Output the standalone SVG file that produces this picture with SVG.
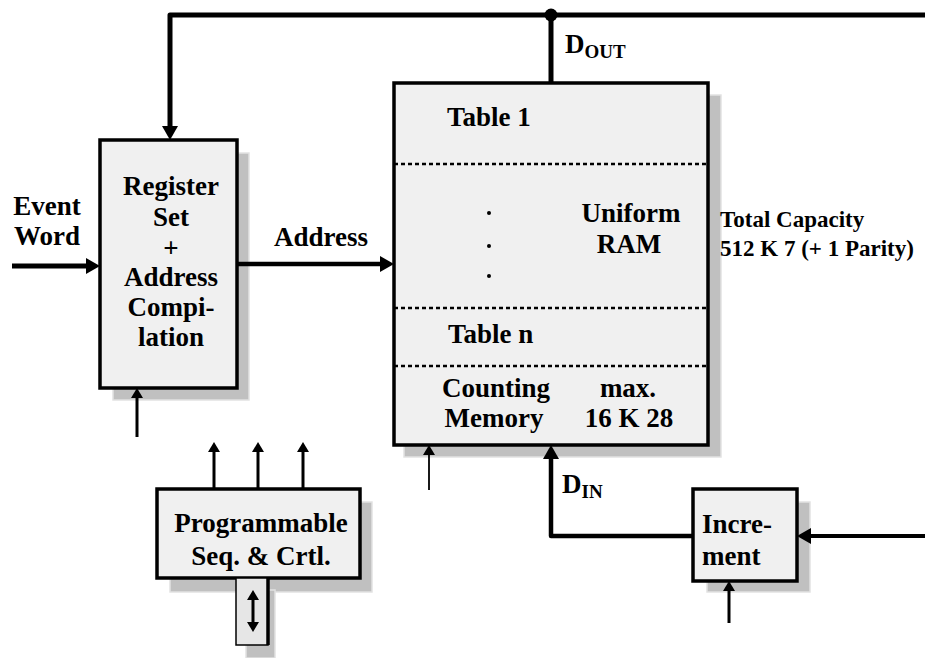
<svg xmlns="http://www.w3.org/2000/svg" width="925" height="658" viewBox="0 0 925 658">
<style>
text{font-family:"Liberation Serif","Times New Roman",serif;font-weight:bold;fill:#000}
.t{font-size:27px}
.s{font-size:23px}
.sub{font-size:19px}
.m{text-anchor:middle}
.box{fill:#f0f0f0;stroke:#000;stroke-width:3.5}
.shadow{fill:#c0c0c0;stroke:#e2e2e2;stroke-width:1.5}
.w{fill:none;stroke:#000;stroke-linejoin:round}
.div{stroke:#000;stroke-width:2.5;stroke-dasharray:4 3}
</style>
<defs>
<marker id="ab" markerUnits="userSpaceOnUse" markerWidth="14" markerHeight="16" refX="0" refY="8" orient="auto"><path d="M0,0 L14,8 L0,16 z" fill="#000"/></marker>
<marker id="as" markerUnits="userSpaceOnUse" markerWidth="10" markerHeight="12" refX="0" refY="6" orient="auto-start-reverse"><path d="M0,0 L10,6 L0,12 z" fill="#000"/></marker>
</defs>

<g id="register">
<rect class="shadow" x="113" y="153" width="136" height="247"/>
<rect class="box" x="100" y="140" width="137" height="248"/>
<text class="t m" x="171" y="195">Register</text>
<text class="t m" x="171" y="226">Set</text>
<text class="t m" x="171" y="257">+</text>
<text class="t m" x="171" y="286">Address</text>
<text class="t m" x="171" y="316">Compi-</text>
<text class="t m" x="171" y="346">lation</text>
</g>

<g id="ram">
<rect class="shadow" x="404" y="95" width="317" height="362"/>
<rect class="box" x="394" y="83" width="314" height="362"/>
<line class="div" x1="394" y1="164" x2="708" y2="164"/>
<line class="div" x1="394" y1="308" x2="708" y2="308"/>
<line class="div" x1="394" y1="366" x2="708" y2="366"/>
<text class="t" x="447" y="126">Table 1</text>
<circle cx="489" cy="213" r="2"/>
<circle cx="489" cy="246" r="2"/>
<circle cx="489" cy="276" r="2"/>
<text class="t m" x="631" y="222">Uniform</text>
<text class="t m" x="629" y="253">RAM</text>
<text class="t" x="448" y="343">Table n</text>
<text class="t m" x="496" y="397">Counting</text>
<text class="t m" x="494" y="427">Memory</text>
<text class="t m" x="628" y="397">max.</text>
<text class="t m" x="629" y="427">16 K 28</text>
</g>

<g id="capacity">
<text class="s" x="720" y="227">Total Capacity</text>
<text class="s" x="720" y="256">512 K 7 (+ 1 Parity)</text>
</g>

<g id="sequencer">
<rect class="shadow" x="170" y="502" width="202" height="90"/>
<rect class="box" x="157" y="489" width="203" height="89"/>
<text class="t m" x="261" y="532">Programmable</text>
<text class="t m" x="261" y="565">Seq. &amp; Crtl.</text>
</g>

<g id="io-port">
<rect class="shadow" x="246" y="590" width="29" height="68"/>
<rect x="236" y="578" width="32" height="67" fill="#e6e6e6" stroke="#000" stroke-width="1.5"/>
<line x1="268" y1="578" x2="268" y2="645" stroke="#000" stroke-width="3.5"/>
</g>

<g id="increment">
<rect class="shadow" x="707" y="502" width="103" height="90"/>
<rect class="box" x="693" y="489" width="104" height="92"/>
<text class="t" x="702" y="533">Incre-</text>
<text class="t" x="702" y="565">ment</text>
</g>

<g id="labels">
<text class="t m" x="47" y="215">Event</text>
<text class="t m" x="47" y="245">Word</text>
<text class="t" x="274" y="246">Address</text>
<text class="t" x="565" y="53">D<tspan class="sub" dy="5">OUT</tspan></text>
<text class="t" x="562" y="493">D<tspan class="sub" dy="5">IN</tspan></text>
</g>

<g id="connectors">
<path class="w" d="M925,15 H170 V126" stroke-width="5" marker-end="url(#ab)"/>
<line x1="551" y1="15" x2="551" y2="83" stroke="#000" stroke-width="5"/>
<circle cx="551" cy="15" r="6.5" fill="#000"/>
<path class="w" d="M12,266 H86" stroke-width="5" marker-end="url(#ab)"/>
<path class="w" d="M237,264 H380" stroke-width="4.5" marker-end="url(#ab)"/>
<path class="w" d="M137,437 V398" stroke-width="3" marker-end="url(#as)"/>
<path class="w" d="M214,489 V452" stroke-width="3" marker-end="url(#as)"/>
<path class="w" d="M258,489 V452" stroke-width="3" marker-end="url(#as)"/>
<path class="w" d="M303,489 V452" stroke-width="3" marker-end="url(#as)"/>
<path class="w" d="M429,490 V455" stroke-width="1.8" marker-end="url(#as)"/>
<path class="w" d="M693,536 H551 V459" stroke-width="4.5" marker-end="url(#ab)"/>
<path class="w" d="M925,536 H811" stroke-width="4" marker-end="url(#ab)"/>
<path class="w" d="M729,623 V591" stroke-width="3" marker-end="url(#as)"/>
<path class="w" d="M253,600 V622" stroke-width="3" marker-start="url(#as)" marker-end="url(#as)"/>
</g>
</svg>
